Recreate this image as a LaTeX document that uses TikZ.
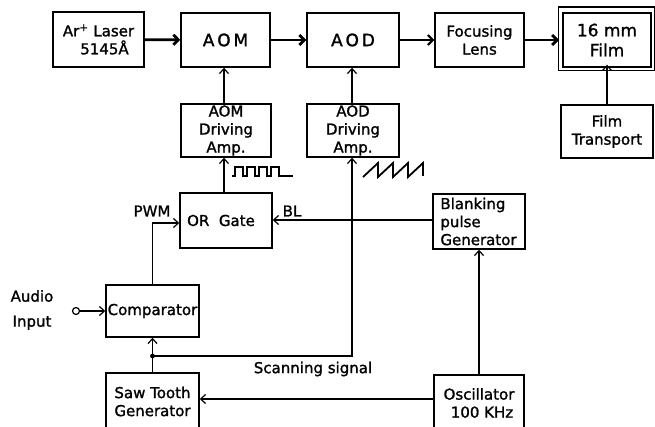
\documentclass[tikz,border=0pt]{standalone}
\usepackage{fontspec}
\newfontfamily\lab[FakeBold=1.4]{DejaVu Sans}
\usetikzlibrary{arrows.meta}
\begin{document}
\begin{tikzpicture}[x=1pt,y=-1pt,
  txt/.style={font=\lab\fontsize{15}{18}\selectfont, align=center, inner sep=0pt},
  box/.style={txt, draw, line width=1.4pt, minimum width=91pt, minimum height=54pt},
  big/.style={font=\lab\fontsize{17}{20}\selectfont},
  conn/.style={line width=1.2pt},
  arr/.style={conn, -{Straight Barb[length=5pt,width=9pt]}},
  thick arr/.style={line width=2.8pt, -{Straight Barb[length=5pt,width=10pt]}},
  med arr/.style={line width=2pt, -{Straight Barb[length=5pt,width=10pt]}},
  wave/.style={line width=1.8pt, line join=miter}]
\useasboundingbox (0,0) rectangle (655,427);
\clip (0,0) rectangle (655,427);
% top row
\node[box, minimum width=91pt, minimum height=55pt] (laser) at (98.5,39.5) {Ar\textsuperscript{+} Laser\\\hspace*{12pt}5145Å};
\node[box, big, minimum width=89pt] (aom) at (225.5,40) {A\,O\,M};
\node[box, big, minimum width=92pt] (aod) at (353,40) {A\,O\,D};
\node[box, minimum width=89pt] (lens) at (479.5,40) {Focusing\\Lens};
\node[box, big, minimum width=88pt] (film) at (607,40) {16 mm\\Film};
\draw[line width=1.6pt] ([xshift=-4pt,yshift=5pt]film.north west) rectangle ([xshift=3pt,yshift=-3pt]film.south east);
% second row
\node[box, minimum width=90pt, minimum height=53pt] (aomamp) at (226,130.5) {AOM\\Driving\\Amp.};
\node[box, minimum width=92pt, minimum height=53pt] (aodamp) at (353,130.5) {AOD\\Driving\\Amp.};
\node[box, minimum width=92pt, minimum height=53pt] (transport) at (607,131.5) {Film\\Transport};
% third row
\node[box, minimum width=92pt, minimum height=55pt] (orgate) at (226,220.5) {\raisebox{-5pt}{OR\ \ Gate}\hspace*{10pt}};
\node[box, minimum width=92pt, minimum height=55pt, align=left] (blank) at (479,221.5) {Blanking\\pulse\\Generator\hspace*{1pt}};
% lower rows
\node[box, minimum width=93pt, minimum height=52pt] (comp) at (152.5,311) {Comparator};
\node[box, minimum width=93pt, minimum height=57pt] (saw) at (152.5,401.5) {Saw Tooth\\Generator};
\node[box, minimum width=90pt, minimum height=56pt] (osc) at (479,403) {Oscillator\\\hspace*{6pt}100 KHz};
% labels
\node[txt] (pwm) at (152,211) {PWM};
\node[txt] (bl) at (292,211) {BL};
\node[txt, font=\lab\fontsize{15}{25}\selectfont] (audio) at (32,310) {Audio\\Input};
\node[txt] (scan) at (313,369) {Scanning signal};
% top-row beam arrows
\draw[thick arr] (laser) -- (aom);
\draw[thick arr] (aom) -- (aod);
\draw[med arr] (aod) -- (lens);
\draw[thick arr] (lens) -- (film.west -| 559,0);
% vertical feeds
\draw[arr] (aomamp.north -| 224,0) -- (aom.south -| 224,0);
\draw[arr] (aodamp.north -| 352,0) -- (aod.south -| 352,0);
\draw[arr] (transport.north) -- ([yshift=3pt]film.south);
\draw[arr] (orgate.north -| 224,0) -- (aomamp.south -| 224,0);
% comparator to OR gate
\draw[arr] (comp.north) |- (orgate.west |- 0,223);
% blanking to OR gate
\draw[arr] (blank.west |- 0,220) -- (orgate.east |- 0,220);
% oscillator
\draw[arr] (osc.north) -- (blank.south);
\draw[arr] (osc.west |- 0,399) -- (saw.east |- 0,399);
% saw tooth to comparator, scanning signal
\coordinate (dot) at (152.5,356);
\draw[arr] (saw.north) -- (comp.south);
\fill (dot) circle (2.4pt);
\draw[arr] (dot) -| (aodamp.south -| 352,0);
% audio input
\coordinate (ain) at (76,311);
\draw[line width=1.2pt] (ain) circle (3.5pt);
\draw[arr] ([xshift=3.5pt]ain) -- (comp.west);
% waveforms
\draw[wave] (232,176) -- (235,176) -- (235,167) -- (243,167) -- (243,176) -- (247,176) -- (247,167) -- (255,167) -- (255,176) -- (259,176) -- (259,167) -- (267,167) -- (267,176) -- (271,176) -- (271,167) -- (279,167) -- (279,176) -- (293,176);
\draw[wave] (363,177) -- (378,163) -- (378,177) -- (393,163) -- (393,177) -- (408,163) -- (408,177) -- (423,163) -- (423,176);
\end{tikzpicture}
\end{document}
